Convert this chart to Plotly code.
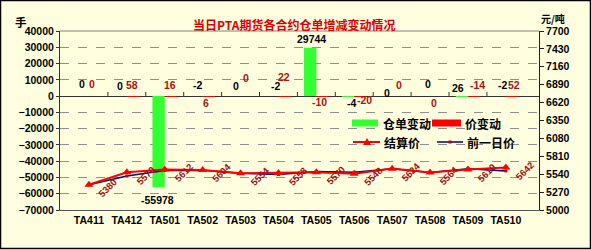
import plotly.graph_objects as go

# ---------------- data ----------------
contracts = ["TA411", "TA412", "TA501", "TA502", "TA503", "TA504",
             "TA505", "TA506", "TA507", "TA508", "TA509", "TA510"]
warrant_change = [0, 0, -55978, -2, 0, -2, 29744, -4, 0, 0, 26, -2]
price_change = [0, 58, 16, 6, 0, 22, -10, -20, 0, 0, -14, 52]
settle_price = [5380, 5570, 5612, 5604, 5554, 5558, 5570, 5548, 5624, 5564, 5610, 5642]
prev_price = [s - c for s, c in zip(settle_price, price_change)]

left_ticks = [40000, 30000, 20000, 10000, 0, -10000, -20000, -30000, -40000, -50000, -60000, -70000]
right_ticks = [7700, 7430, 7160, 6890, 6620, 6350, 6080, 5810, 5540, 5270, 5000]

title_text = "当日PTA期货各合约仓单增减变动情况"

# ---------------- style ----------------
W, H = 591, 250
ML, MR, MT, MB = 60, 52, 31, 40
PW, PH = W - ML - MR, H - MT - MB
BG = "#FFFFE0"
NUM_FONT = dict(family="Liberation Sans, Arial", size=10.5, color="black", weight="bold")
CJK = "Noto Sans CJK SC"

# label offsets (px) for the two bar-series labels
blk_shift = [12, 10, 0, 11, 10, 10, 0, -7, 3, 12, 8, 11]
red_shift = [12, 11, 11, -7, 18, 19, -6, -4, 11, -7, 11, 11]
blk_x = [-7, -7, -5, -5, -5, -3, -5, -3, -5, -2, -10, -3]
red_x = [3, 5, 5, 3, 5, 6, 3, 10, 7, 4, 10, 8]


def pxx(x):
    return (x - ML) / PW


def pxy(y):
    return (H - MB - y) / PH


fig = go.Figure()
fig.add_trace(go.Bar(x=contracts, y=warrant_change, name="仓单变动",
                     marker=dict(color="#33ff33", line=dict(width=0)), yaxis="y"))
fig.add_trace(go.Bar(x=contracts, y=price_change, name="价变动",
                     marker=dict(color="#ff0000", line=dict(width=0)), yaxis="y"))
fig.add_trace(go.Scatter(x=contracts, y=prev_price, name="前一日价", yaxis="y2",
                         mode="lines+markers", line=dict(color="#000080", width=1.5),
                         marker=dict(symbol="square", size=3, color="#cc0000")))
fig.add_trace(go.Scatter(x=contracts, y=settle_price, name="结算价", yaxis="y2",
                         mode="lines+markers", line=dict(color="#ff0000", width=2),
                         marker=dict(symbol="triangle-up", size=8, color="#ff0000")))

annotations = []
# bar labels
for i, c in enumerate(contracts):
    v = warrant_change[i]
    if v > 1000:
        annotations.append(dict(x=c, y=v, yref="y", text=str(v), showarrow=False,
                                xshift=blk_x[i], yshift=9, font=NUM_FONT))
    elif v < -1000:
        annotations.append(dict(x=c, y=v, yref="y", text=str(v), showarrow=False,
                                xshift=-7, yshift=-13, font=NUM_FONT))
    else:
        annotations.append(dict(x=c, y=0, yref="y", text=str(v), showarrow=False,
                                xshift=blk_x[i], yshift=blk_shift[i], font=NUM_FONT))
    annotations.append(dict(x=c, y=0, yref="y", text=str(price_change[i]), showarrow=False,
                            xshift=red_x[i], yshift=red_shift[i],
                            font=dict(family="Liberation Sans, Arial", size=10.5,
                                      color="#b01010", weight="bold")))
# price labels (rotated)
for i, c in enumerate(contracts):
    annotations.append(dict(x=c, y=settle_price[i], yref="y2", text=str(settle_price[i]),
                            showarrow=False, textangle=-45, xshift=19, yshift=-3,
                            font=dict(family="Liberation Sans, Arial", size=9.5,
                                      color="#a01010", weight="bold")))
# titles
annotations += [
    dict(xref="paper", yref="paper", x=pxx(294), y=pxy(14), text=title_text, showarrow=False,
         font=dict(family=CJK, size=12, color="#dd0000", weight="bold")),
    dict(xref="paper", yref="paper", x=pxx(13), y=pxy(12), text="手", showarrow=False,
         font=dict(family=CJK, size=11.5, color="black", weight="bold")),
    dict(xref="paper", yref="paper", x=pxx(566), y=pxy(10), text="元/吨", showarrow=False,
         borderpad=0, font=dict(family=CJK, size=10, color="black", weight="bold")),
]
# custom legend
leg_font = dict(family=CJK, size=12, color="black", weight="bold")
shapes = []
shapes.append(dict(type="rect", xref="paper", yref="paper", x0=pxx(352), x1=pxx(378),
                   y0=pxy(126.5), y1=pxy(119.5), fillcolor="#33ff33", line=dict(width=0)))
shapes.append(dict(type="rect", xref="paper", yref="paper", x0=pxx(432), x1=pxx(461),
                   y0=pxy(126.5), y1=pxy(119.5), fillcolor="#ff0000", line=dict(width=0)))
shapes.append(dict(type="line", xref="paper", yref="paper", x0=pxx(353), x1=pxx(380),
                   y0=pxy(142), y1=pxy(142), line=dict(color="#ff0000", width=2)))
shapes.append(dict(type="path", xref="paper", yref="paper",
                   path="M %f %f L %f %f L %f %f Z" % (pxx(363), pxy(145), pxx(371), pxy(145), pxx(367), pxy(138)),
                   fillcolor="#ff0000", line=dict(width=0)))
shapes.append(dict(type="line", xref="paper", yref="paper", x0=pxx(437), x1=pxx(463),
                   y0=pxy(142), y1=pxy(142), line=dict(color="#000080", width=1.5)))
shapes.append(dict(type="rect", xref="paper", yref="paper", x0=pxx(448.5), x1=pxx(451.5),
                   y0=pxy(143.5), y1=pxy(140.5), fillcolor="#cc0000", line=dict(width=0)))
annotations += [
    dict(xref="paper", yref="paper", x=pxx(381), y=pxy(123), xanchor="left", text="仓单变动",
         showarrow=False, font=leg_font),
    dict(xref="paper", yref="paper", x=pxx(463), y=pxy(123), xanchor="left", text="价变动",
         showarrow=False, font=leg_font),
    dict(xref="paper", yref="paper", x=pxx(382), y=pxy(142), xanchor="left", text="结算价",
         showarrow=False, font=leg_font),
    dict(xref="paper", yref="paper", x=pxx(465), y=pxy(142), xanchor="left", text="前一日价",
         showarrow=False, font=leg_font),
]
# category tick marks on the zero line
for i in range(len(contracts) - 1):
    shapes.append(dict(type="line", xref="x", yref="y", x0=i + 0.5, x1=i + 0.5,
                       y0=0, y1=2500, line=dict(color="#333333", width=1)))
# plot box top + outer border
shapes.append(dict(type="line", xref="paper", yref="paper", x0=0, x1=1, y0=1, y1=1,
                   line=dict(color="#808080", width=1)))
shapes.append(dict(type="rect", xref="paper", yref="paper", x0=pxx(0.5), x1=pxx(590.5),
                   y0=pxy(248.5), y1=pxy(0.5), line=dict(color="black", width=1.5), layer="below"))

fig.update_layout(
    width=W, height=H, margin=dict(l=ML, r=MR, t=MT, b=MB),
    paper_bgcolor=BG, plot_bgcolor=BG, showlegend=False,
    barmode="group", bargap=0.35, bargroupgap=0,
    xaxis=dict(type="category", showgrid=False, showline=True, linecolor="#555555",
               linewidth=1, ticks="", tickfont=NUM_FONT, ticklen=0),
    yaxis=dict(range=[-70000, 40000], tickvals=left_ticks,
               ticktext=[str(t).replace("-", "\u2212") for t in left_ticks],
               showgrid=True, gridcolor="#909090", griddash="dash", gridwidth=1,
               zeroline=True, zerolinecolor="#333333", zerolinewidth=1,
               showline=True, linecolor="#333333", linewidth=1,
               ticks="outside", ticklen=3, tickcolor="#333333", tickfont=NUM_FONT),
    yaxis2=dict(range=[5000, 7700], tickvals=right_ticks, overlaying="y", side="right",
                showgrid=False, zeroline=False, showline=True, linecolor="#222222",
                linewidth=1, ticks="outside", ticklen=4, tickcolor="#222222",
                tickfont=NUM_FONT),
    annotations=annotations, shapes=shapes,
)

fig.write_html("out.html")
